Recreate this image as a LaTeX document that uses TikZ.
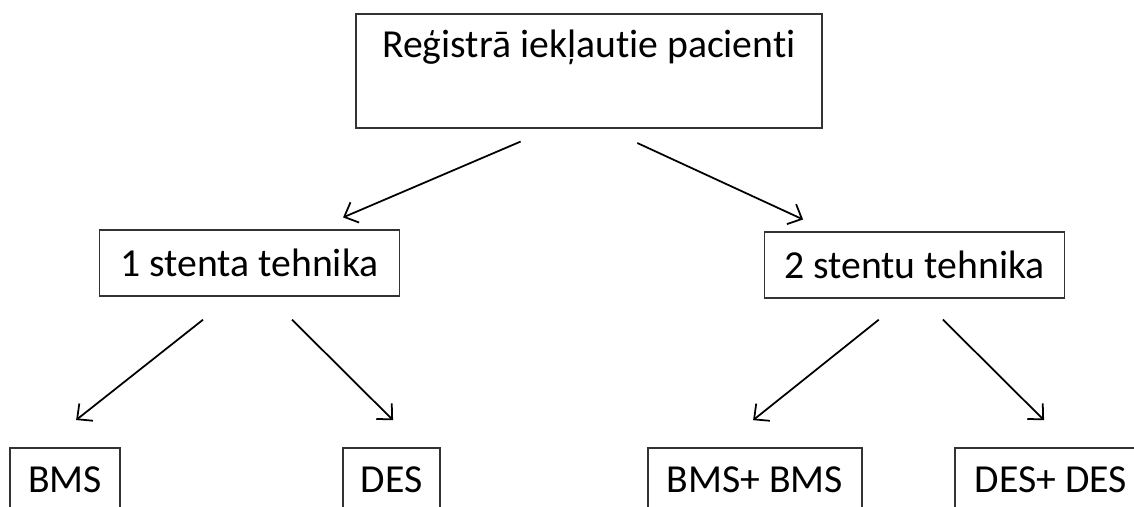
\documentclass[tikz,border=0pt]{standalone}
\usepackage{fontspec}
\setmainfont[Ligatures=NoCommon]{Carlito}
\usetikzlibrary{arrows.meta}

\begin{document}
\begin{tikzpicture}[
  x=0.02cm, y=-0.02cm,
  box/.style={draw=black!80, line width=0.9pt, inner xsep=0pt,
    font=\fontsize{22.6}{27}\selectfont},
  midbox/.style={box, minimum width=6cm, minimum height=1.32cm},
  leafbox/.style={box, anchor=north, inner ysep=11pt, text height=14.4pt, text depth=40pt},
  arr/.style={-{Straight Barb[length=2.3mm,width=4.4mm]}, line width=1pt}
]
  \useasboundingbox (0,0) rectangle (1134,507);
  \clip (0,0) rectangle (1134,507);
  \node[box, anchor=north, minimum width=9.32cm, inner ysep=9pt, text height=16pt, text depth=31pt] (reg) at (589,13) {Reģistrā iekļautie pacienti};
  \node[midbox] (one) at (249.5,263) {1 stenta tehnika};
  \node[midbox] (two) at (914.5,265) {2 stentu tehnika};
  \node[leafbox, minimum width=2.2cm]  (bms)    at (65,447)   {BMS};
  \node[leafbox, minimum width=1.94cm] (des)    at (391.5,447) {DES};
  \node[leafbox, minimum width=4.28cm] (bmsbms) at (755,447)  {BMS+ BMS};
  \node[leafbox, minimum width=3.84cm] (desdes) at (1051,447) {DES+ DES};
  % arrows
  \draw[arr, shorten <=0.65cm, shorten >=0.6cm] ([xshift=-0.77cm]reg.south) -- ([xshift=1.32cm]one.north);
  \draw[arr, shorten <=0.68cm, shorten >=0.56cm] ([xshift=0.35cm]reg.south) -- ([xshift=-1.72cm]two.north);
  \draw[arr, shorten <=0.74cm, shorten >=0.87cm] ([xshift=-0.35cm]one.south) -- ([xshift=-0.46cm]bms.north);
  \draw[arr, shorten <=0.65cm, shorten >=0.76cm] ([xshift=0.39cm]one.south) -- ([xshift=0.57cm]des.north);
  \draw[arr, shorten <=0.67cm, shorten >=0.86cm] ([xshift=-0.19cm]two.south) -- ([xshift=-0.71cm]bmsbms.north);
  \draw[arr, shorten <=0.59cm, shorten >=0.76cm] ([xshift=0.15cm]two.south) -- ([xshift=0.4cm]desdes.north);
\end{tikzpicture}
\end{document}
